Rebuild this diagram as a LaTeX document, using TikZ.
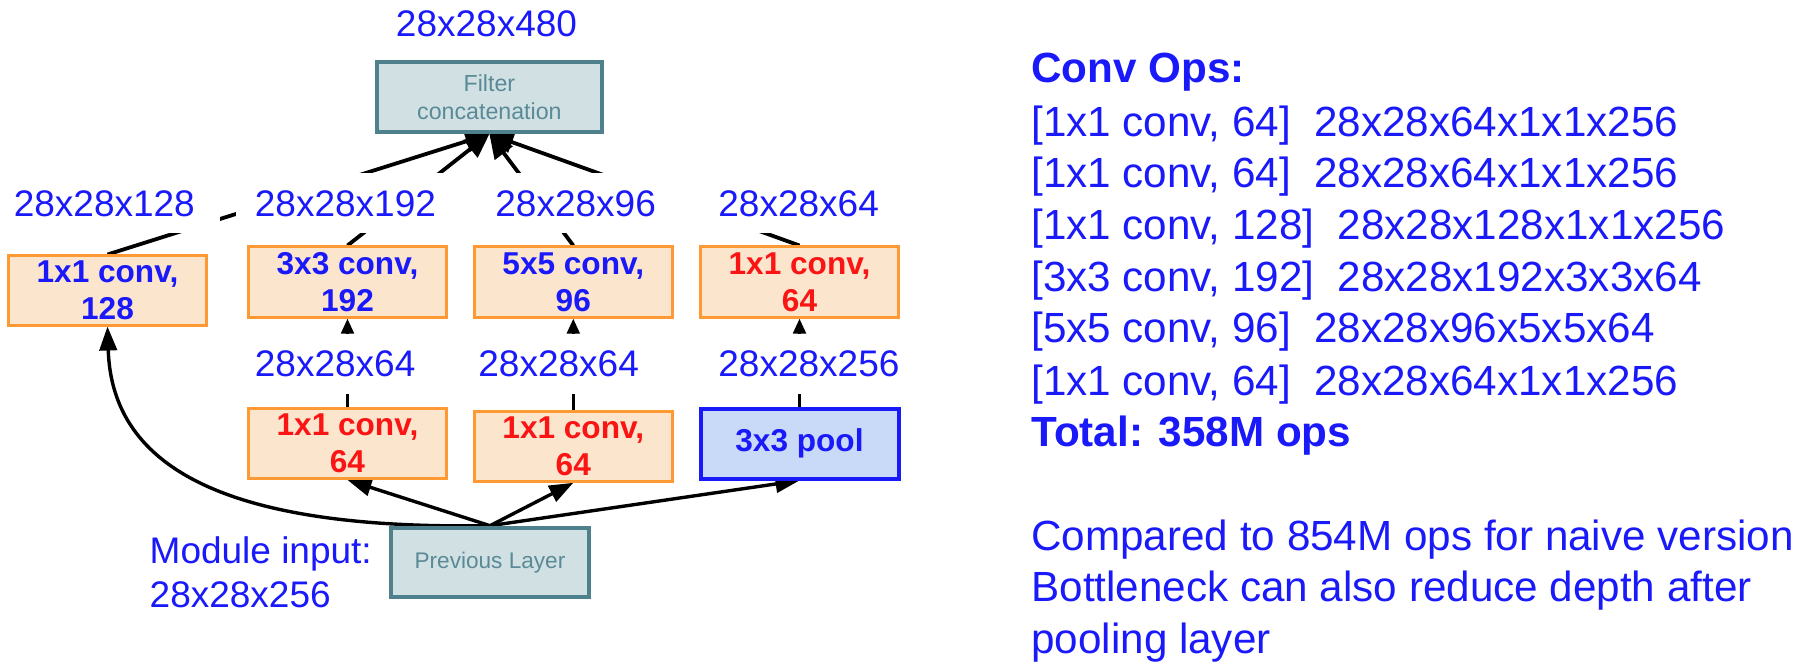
\documentclass[tikz,border=0pt]{standalone}
\usepackage{fontspec}
\setmainfont{Liberation Sans}
\usetikzlibrary{arrows.meta,backgrounds}
\definecolor{tblue}{RGB}{25,25,250}
\definecolor{tred}{RGB}{250,20,20}
\definecolor{oborder}{RGB}{255,153,51}
\definecolor{ofill}{RGB}{252,229,205}
\definecolor{gfill}{RGB}{208,224,227}
\definecolor{gborder}{RGB}{79,129,140}
\definecolor{gtext}{RGB}{90,138,150}
\definecolor{pfill}{RGB}{201,218,248}
\begin{document}
\begin{tikzpicture}[x=0.5pt,y=-0.5pt,
  lab/.style={anchor=west, fill=white, inner xsep=9.5pt, inner ysep=0pt,
    text width=93.8pt, align=left, minimum height=30pt,
    text=tblue, font=\fontsize{18.5}{22}\selectfont},
  plain/.style={inner sep=0pt, text=tblue, font=\fontsize{18.5}{22}\selectfont},
  convbox/.style={draw=oborder, line width=1.5pt, fill=ofill, inner sep=0pt,
    minimum width=99pt, minimum height=35pt, align=center,
    font=\bfseries\fontsize{15.8}{18.5}\selectfont},
  poolbox/.style={draw=tblue, line width=2pt, fill=pfill, inner sep=0pt,
    minimum width=99pt, minimum height=35pt, text=tblue,
    font=\bfseries\fontsize{15.8}{18.5}\selectfont},
  graybox/.style={draw=gborder, line width=2pt, fill=gfill, inner sep=0pt,
    align=center, text=gtext},
  rtext/.style={anchor=base west, inner sep=0pt, text=tblue,
    font=\fontsize{21.1}{25}\selectfont},
  bigarrow/.style={-{Triangle[length=12pt,width=11pt]}, line width=1.9pt},
  midarrow/.style={-{Triangle[length=12pt,width=8.7pt]}, line width=1.7pt},
  smallarrow/.style={-{Triangle[length=7.5pt,width=6.2pt]}, line width=1.7pt}
]
\useasboundingbox (0,0) rectangle (1814,668);

% boxes
\node[graybox, minimum width=112.3pt, minimum height=35pt,
  font=\fontsize{11.6}{14}\selectfont] (F) at (489.4,97) {Filter\\concatenation};
\node[graybox, minimum width=99pt, minimum height=34.8pt,
  font=\fontsize{11.3}{14}\selectfont] (PL) at (490,562.5) {Previous Layer};

\node[convbox, minimum height=34.5pt, text=tblue] (B1) at (107.5,290.5) {1x1 conv,\\128};
\node[convbox, text=tblue] (B2) at (347.5,282) {3x3 conv,\\192};
\node[convbox, text=tblue] (B3) at (573.3,282) {5x5 conv,\\96};
\node[convbox, text=tred] (B4) at (799.5,282) {1x1 conv,\\64};

\node[convbox, text=tred] (C2) at (347.5,443.5) {1x1 conv,\\64};
\node[convbox, text=tred] (C3) at (573.3,446.3) {1x1 conv,\\64};
\node[poolbox] (C4) at (799.5,443.5) {3x3 pool};

% labels
\node[plain] (T) at (486.5,23.5) {28x28x480};
\node[lab] (L1) at (-5.6,203.5) {28x28x128};
\node[lab] (L2) at (235.5,203.5) {28x28x192};
\node[lab] (L3) at (476,203.5) {28x28x96};
\node[lab] (L4) at (699,203.5) {28x28x64};
\node[lab] (M2) at (235.5,363.5) {28x28x64};
\node[lab] (M3) at (459,363.5) {28x28x64};
\node[lab] (M4) at (699,363.5) {28x28x256};

\node[plain, anchor=base west] (MI1) at (149.3,563) {Module input:};
\node[plain, anchor=base west] (MI2) at (149.3,607) {28x28x256};

% right text
\node[rtext, font=\bfseries\fontsize{21.1}{25}\selectfont] (R0) at (1031,83) {Conv Ops:};
\node[rtext] (R1) at (1031,137) {[1x1 conv, 64]\ \ 28x28x64x1x1x256};
\node[rtext] (R2) at (1031,188) {[1x1 conv, 64]\ \ 28x28x64x1x1x256};
\node[rtext] (R3) at (1031,240) {[1x1 conv, 128]\ \ 28x28x128x1x1x256};
\node[rtext] (R4) at (1031,292) {[3x3 conv, 192]\ \ 28x28x192x3x3x64};
\node[rtext] (R5) at (1031,343) {[5x5 conv, 96]\ \ 28x28x96x5x5x64};
\node[rtext] (R6) at (1031,395) {[1x1 conv, 64]\ \ 28x28x64x1x1x256};
\node[rtext, font=\bfseries\fontsize{21.1}{25}\selectfont] (R7) at (1031,446) {Total: 358M ops};
\node[rtext] (R8) at (1031,550) {Compared to 854M ops for naive version};
\node[rtext] (R9) at (1031,601.5) {Bottleneck can also reduce depth after};
\node[rtext] (R10) at (1031,653) {pooling layer};

\begin{scope}[on background layer]
\draw[bigarrow] (B1.north) -- (F.south);
\draw[bigarrow] (B2.north) -- (F.south);
\draw[bigarrow] (B3.north) -- (F.south);
\draw[bigarrow] (B4.north) -- (F.south);
\draw[smallarrow] (C2.north) -- (B2.south);
\draw[smallarrow] (C3.north) -- (B3.south);
\draw[smallarrow] (C4.north) -- (B4.south);
\draw[midarrow] (PL.north) -- (C2.south);
\draw[midarrow] (PL.north) -- (C3.south);
\draw[midarrow] (PL.north) -- (C4.south);
\draw[midarrow] (PL.north) .. controls (230,530) and (112,470) .. (B1.south);
\end{scope}
\end{tikzpicture}
\end{document}
